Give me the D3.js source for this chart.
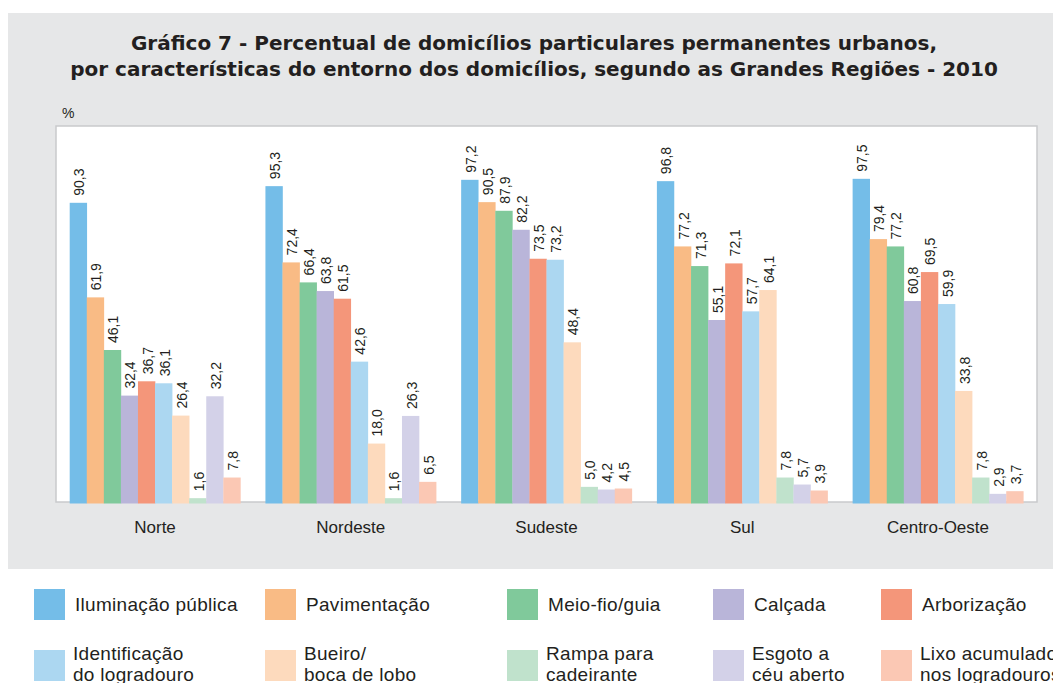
<!DOCTYPE html>
<html>
<head>
<meta charset="utf-8">
<script src="https://cdn.jsdelivr.net/npm/d3@7"></script>
<style>
  html, body { margin: 0; padding: 0; background: #fff; }
  svg { display: block; }
</style>
</head>
<body>
<svg id="chart" width="1053" height="683"></svg>
<script>
// regions (groups)
const regions = ['Norte', 'Nordeste', 'Sudeste', 'Sul', 'Centro-Oeste'];

// series names, legend lines
const series = [
  ['Iluminação pública'],
  ['Pavimentação'],
  ['Meio-fio/guia'],
  ['Calçada'],
  ['Arborização'],
  ['Identificação', 'do logradouro'],
  ['Bueiro/', 'boca de lobo'],
  ['Rampa para', 'cadeirante'],
  ['Esgoto a', 'céu aberto'],
  ['Lixo acumulado', 'nos logradouros']
];

// values per region, same order as series
const norte = [90.3, 61.9, 46.1, 32.4, 36.7, 36.1, 26.4, 1.6, 32.2, 7.8];
const nordeste = [95.3, 72.4, 66.4, 63.8, 61.5, 42.6, 18.0, 1.6, 26.3, 6.5];
const sudeste = [97.2, 90.5, 87.9, 82.2, 73.5, 73.2, 48.4, 5.0, 4.2, 4.5];
const sul = [96.8, 77.2, 71.3, 55.1, 72.1, 57.7, 64.1, 7.8, 5.7, 3.9];
const centroOeste = [97.5, 79.4, 77.2, 60.8, 69.5, 59.9, 33.8, 7.8, 2.9, 3.7];

const values = [norte, nordeste, sudeste, sul, centroOeste];

const colors = ['#74bde8', '#f9bb85', '#80c99b', '#b9b5d9', '#f4967a',
                '#acd7f1', '#fddabd', '#c0e2cc', '#d3d1e8', '#fbc8b4'];

const textColor = '#231f20';
const fmt = (v) => d3.format('.1f')(v).replace('.', ',');

const svg = d3.select('#chart');

// grey panel behind title + chart
svg.append('rect')
  .attr('x', 8).attr('y', 13)
  .attr('width', 1045).attr('height', 556)
  .attr('fill', '#e6e7e8');

// title
const title = svg.append('text')
  .attr('x', 534)
  .attr('text-anchor', 'middle')
  .attr('fill', textColor)
  .style('font-family', '"DejaVu Sans", sans-serif')
  .style('font-weight', 'bold')
  .style('font-size', '20px');
title.append('tspan').attr('x', 534).attr('y', 50)
  .text('Gráfico 7 - Percentual de domicílios particulares permanentes urbanos,');
title.append('tspan').attr('x', 534).attr('y', 76)
  .text('por características do entorno dos domicílios, segundo as Grandes Regiões - 2010');

svg.append('text')
  .attr('x', 62).attr('y', 118)
  .attr('fill', textColor)
  .style('font-family', '"Liberation Sans", Arial, sans-serif')
  .style('font-size', '14px')
  .text('%');

// white plot box
const box = { left: 56, right: 1037, top: 126, bottom: 502 };
svg.append('rect')
  .attr('x', box.left).attr('y', box.top)
  .attr('width', box.right - box.left).attr('height', box.bottom - box.top)
  .attr('fill', '#fff')
  .attr('stroke', '#c9cacc')
  .attr('stroke-width', 1.5);

const x0 = d3.scaleBand()
  .domain(regions)
  .range([box.left, box.right])
  .paddingInner(0.128)
  .paddingOuter(0.07);

const x1 = d3.scaleBand()
  .domain(d3.range(series.length))
  .range([0, x0.bandwidth()])
  .padding(0);

const y = d3.scaleLinear()
  .domain([0, 100])
  .range([503.5, 170.5]);

const groups = svg.append('g')
  .selectAll('g')
  .data(regions)
  .join('g')
  .attr('transform', (d) => `translate(${x0(d)},0)`);

groups.selectAll('rect')
  .data((d, i) => values[i].map((v, j) => ({ v, j })))
  .join('rect')
  .attr('x', (d) => x1(d.j))
  .attr('y', (d) => y(d.v))
  .attr('width', x1.bandwidth() + 0.3)
  .attr('height', (d) => y(0) - y(d.v))
  .attr('fill', (d) => colors[d.j]);

groups.selectAll('text.val')
  .data((d, i) => values[i].map((v, j) => ({ v, j })))
  .join('text')
  .attr('class', 'val')
  .attr('transform', (d) => `translate(${x1(d.j) + x1.bandwidth() / 2 + 1},${y(d.v) - 7}) rotate(-90)`)
  .attr('dy', '0.36em')
  .attr('fill', textColor)
  .style('font-family', '"Liberation Sans", Arial, sans-serif')
  .style('font-size', '14px')
  .text((d) => fmt(d.v));

// region labels
const xAxis = d3.axisBottom(x0).tickSize(0).tickPadding(0);
const axisG = svg.append('g')
  .attr('transform', `translate(0,${box.bottom})`)
  .call(xAxis);
axisG.select('.domain').remove();
axisG.selectAll('text')
  .attr('y', 31)
  .attr('dy', 0)
  .attr('fill', textColor)
  .style('font-family', '"Liberation Sans", Arial, sans-serif')
  .style('font-size', '17px');

// legend
const legCols = [34, 265, 507, 713, 881];
const legRows = [589, 650];
const legend = svg.append('g');
series.forEach((lines, i) => {
  const cx = legCols[i % 5];
  const ry = legRows[Math.floor(i / 5)];
  legend.append('rect')
    .attr('x', cx).attr('y', ry)
    .attr('width', 31).attr('height', 31)
    .attr('fill', colors[i]);
  const t = legend.append('text')
    .attr('fill', textColor)
    .style('font-family', '"Liberation Sans", Arial, sans-serif')
    .style('font-size', '19px')
    .style('letter-spacing', '0.3px');
  if (lines.length === 1) {
    t.append('tspan').attr('x', cx + 41).attr('y', ry + 22).text(lines[0]);
  } else {
    lines.forEach((l, k) => {
      t.append('tspan').attr('x', cx + 39).attr('y', ry + 10 + k * 20.5).text(l);
    });
  }
});
</script>
</body>
</html>
